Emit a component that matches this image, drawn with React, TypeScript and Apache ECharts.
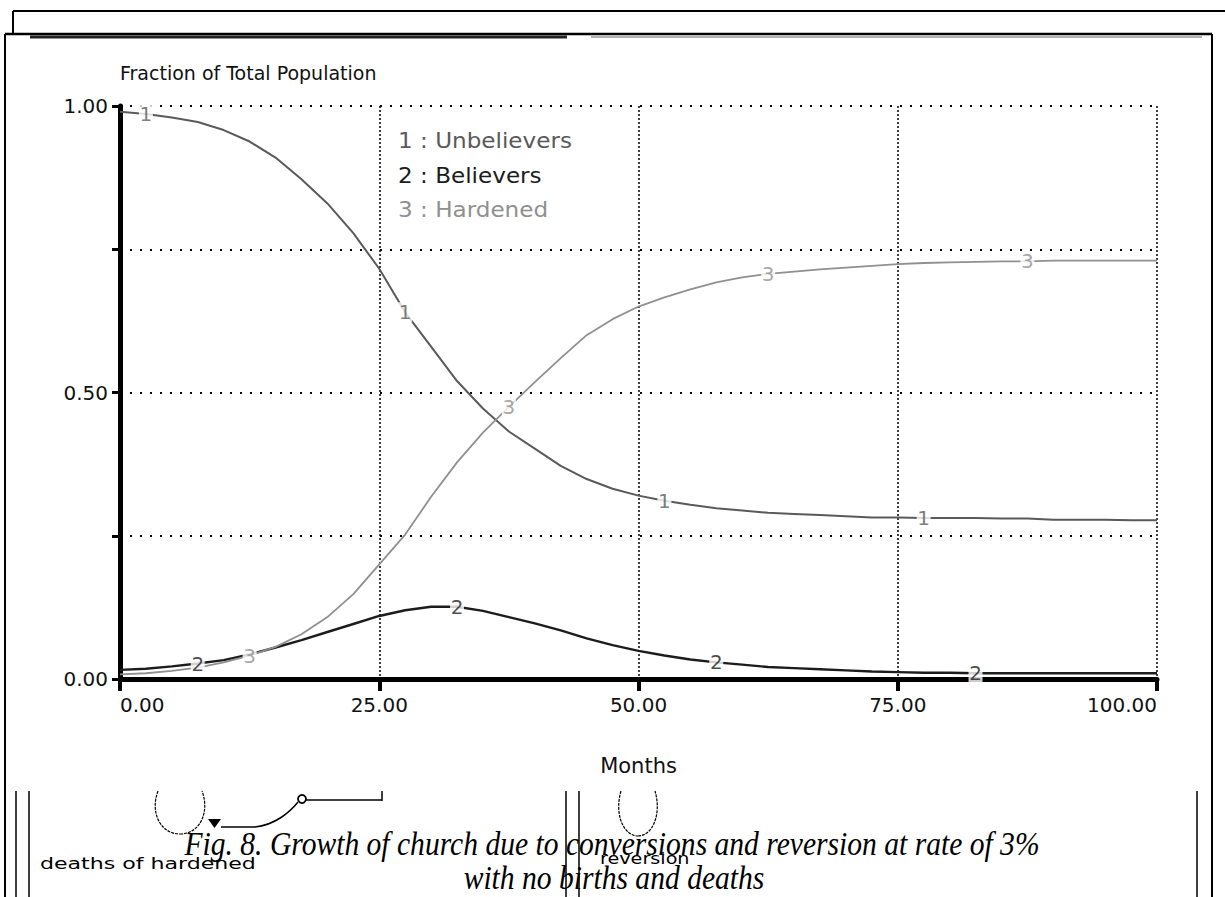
import React, { useEffect, useRef } from 'react';
import * as echarts from 'echarts';

// ---------- data ----------
const months = [
  0, 2.5, 5, 7.5, 10, 12.5, 15, 17.5, 20, 22.5, 25, 27.5, 30, 32.5, 35, 37.5, 40, 42.5, 45, 47.5, 50,
  52.5, 55, 57.5, 60, 62.5, 65, 67.5, 70, 72.5, 75, 77.5, 80, 82.5, 85, 87.5, 90, 92.5, 95, 97.5, 100,
];
const unbelievers = [
  0.99, 0.986, 0.98, 0.972, 0.958, 0.938, 0.91, 0.872, 0.83, 0.778, 0.716, 0.64, 0.58, 0.52, 0.472,
  0.432, 0.402, 0.372, 0.349, 0.332, 0.32, 0.311, 0.304, 0.298, 0.294, 0.29, 0.288, 0.286, 0.284,
  0.282, 0.282, 0.281, 0.281, 0.281, 0.28, 0.28, 0.278, 0.278, 0.278, 0.277, 0.277,
];
const believers = [
  0.016, 0.018, 0.022, 0.027, 0.033, 0.043, 0.055, 0.068, 0.082, 0.096, 0.11, 0.12, 0.126, 0.126,
  0.119, 0.108, 0.097, 0.085, 0.071, 0.059, 0.049, 0.041, 0.034, 0.029, 0.025, 0.021, 0.019, 0.017,
  0.015, 0.013, 0.012, 0.011, 0.011, 0.01, 0.01, 0.01, 0.01, 0.01, 0.01, 0.01, 0.01,
];
const hardened = [
  0.008, 0.01, 0.014, 0.02, 0.029, 0.041, 0.056, 0.078, 0.108, 0.148, 0.2, 0.252, 0.318, 0.378, 0.43,
  0.475, 0.518, 0.56, 0.6, 0.628, 0.65, 0.666, 0.68, 0.692, 0.701, 0.707, 0.711, 0.715, 0.718, 0.721,
  0.724, 0.726, 0.727, 0.728, 0.729, 0.729, 0.73, 0.73, 0.73, 0.73, 0.73,
];
const seriesNames = ['Unbelievers', 'Believers', 'Hardened'];
const seriesValues = [unbelievers, believers, hardened];
const seriesColors = ['#5a5a5a', '#1c1c1c', '#909090'];
const seriesWidths = [2, 2.4, 1.8];
const labelIndices = [
  [1, 11, 21, 31],
  [3, 13, 23, 33],
  [5, 15, 25, 35],
];
const yLabelled = [0, 0.5, 1];
const legendLines = ['1 : Unbelievers', '2 : Believers', '3 : Hardened'];
const caption1 = 'Fig. 8. Growth of church due to conversions and reversion at rate of 3%';
const caption2 = 'with no births and deaths';

const FONT = '"DejaVu Sans", sans-serif';

function ln(x1: number, y1: number, x2: number, y2: number, w = 2, c = '#000') {
  return { type: 'line', silent: true, shape: { x1, y1, x2, y2 }, style: { stroke: c, lineWidth: w } };
}

export default function App() {
  const ref = useRef<HTMLDivElement>(null);

  useEffect(() => {
    const chart = echarts.init(ref.current!, null, { renderer: 'svg' });

    const lineSeries = seriesNames.map((name, k) => ({
      type: 'line',
      name,
      data: months.map((m, i) => [m, seriesValues[k][i]]),
      showSymbol: false,
      symbol: 'none',
      lineStyle: { color: seriesColors[k], width: seriesWidths[k] },
      z: 3,
      silent: true,
    }));

    const labelSeries = seriesNames.map((name, k) => ({
      type: 'scatter',
      name: name + ' markers',
      data: labelIndices[k].map((i) => [months[i], seriesValues[k][i]]),
      symbol: 'rect',
      symbolSize: [14, 20],
      itemStyle: { color: '#ffffff' },
      label: {
        show: true,
        position: 'inside',
        formatter: String(k + 1),
        color: seriesColors[k],
        fontSize: 20,
        fontFamily: FONT,
      },
      z: 5,
      silent: true,
    }));

    const legendGraphics = legendLines.map((t, k) => ({
      type: 'text',
      x: 398,
      y: 141 + k * 34.5,
      scaleX: 1.1,
      silent: true,
      style: {
        text: t,
        fill: seriesColors[k],
        fontSize: 21,
        fontFamily: FONT,
        align: 'left',
        verticalAlign: 'middle',
        textAlign: 'left',
        textVerticalAlign: 'middle',
      },
    }));

    const option = {
      animation: false,
      backgroundColor: '#ffffff',
      textStyle: { fontFamily: FONT },
      grid: { left: 120, right: 68, top: 106, bottom: 218, containLabel: false },
      xAxis: {
        type: 'value',
        min: 0,
        max: 100,
        interval: 25,
        name: 'Months',
        nameLocation: 'middle',
        nameGap: 76,
        nameTextStyle: { fontSize: 21, color: '#111', fontFamily: FONT },
        axisLine: { show: true, lineStyle: { color: '#000', width: 5 } },
        axisTick: { show: true, length: 12, lineStyle: { color: '#000', width: 4 } },
        axisLabel: {
          fontSize: 20,
          color: '#111',
          margin: 16,
          fontFamily: FONT,
          alignMinLabel: 'left',
          alignMaxLabel: 'right',
          formatter: (v: number) => v.toFixed(2),
        },
        splitLine: { show: true, lineStyle: { color: '#000', width: 1.5, type: [2, 2] } },
      },
      yAxis: {
        type: 'value',
        min: 0,
        max: 1,
        interval: 0.25,
        name: 'Fraction of Total Population',
        nameLocation: 'end',
        nameGap: 33,
        nameTextStyle: { fontSize: 19, color: '#111', align: 'left', verticalAlign: 'middle', fontFamily: FONT },
        axisLine: { show: true, lineStyle: { color: '#000', width: 5 } },
        axisTick: { show: true, length: 8, lineStyle: { color: '#000', width: 3 } },
        axisLabel: {
          fontSize: 20,
          color: '#111',
          margin: 12,
          fontFamily: FONT,
          formatter: (v: number) => (yLabelled.some((y) => Math.abs(y - v) < 1e-9) ? v.toFixed(2) : ''),
        },
        splitLine: { show: true, lineStyle: { color: '#000', width: 2, type: [2, 8] } },
      },
      series: [...lineSeries, ...labelSeries],
      graphic: [
        // frame fragments at the top
        ln(13, 11, 1225, 11, 2),
        ln(13, 11, 13, 34, 2),
        ln(5, 34, 1212, 34, 2.5),
        ln(5, 34, 5, 897, 2),
        ln(1212, 34, 1212, 897, 2),
        ln(30, 37, 567, 37, 3, '#222'),
        ln(591, 37, 1202, 37, 1.5, '#999'),
        // vertical fragments at the bottom
        ln(16, 791, 16, 897, 1.5),
        ln(29, 791, 29, 897, 1.5),
        ln(566, 791, 566, 897, 1.5),
        ln(579, 791, 579, 897, 1.5),
        ln(1197, 791, 1197, 897, 1.5),
        // left ellipse
        {
          type: 'bezierCurve', silent: true,
          shape: { x1: 158, y1: 791, cpx1: 150, cpy1: 812, cpx2: 160, cpy2: 834, x2: 180, y2: 834 },
          style: { stroke: '#000', fill: null, lineWidth: 1.2, lineDash: [3, 1] },
        },
        {
          type: 'bezierCurve', silent: true,
          shape: { x1: 180, y1: 834, cpx1: 200, cpy1: 834, cpx2: 210, cpy2: 812, x2: 202, y2: 791 },
          style: { stroke: '#000', fill: null, lineWidth: 1.2, lineDash: [3, 1] },
        },
        // arrow
        { type: 'polygon', silent: true, shape: { points: [[208, 819], [221, 819], [214.5, 828]] }, style: { fill: '#000' } },
        ln(221, 827, 255, 827, 1.5),
        {
          type: 'bezierCurve', silent: true,
          shape: { x1: 255, y1: 827, cpx1: 275, cpy1: 825, cpx2: 290, cpy2: 812, x2: 298, y2: 802 },
          style: { stroke: '#000', fill: null, lineWidth: 1.5 },
        },
        { type: 'circle', silent: true, shape: { cx: 302, cy: 799, r: 4 }, style: { stroke: '#000', fill: '#fff', lineWidth: 1.8 } },
        ln(306, 800, 382, 800, 1.5),
        ln(382, 791, 382, 801, 1.5),
        // right ellipse
        {
          type: 'bezierCurve', silent: true,
          shape: { x1: 621, y1: 791, cpx1: 614, cpy1: 815, cpx2: 624, cpy2: 836, x2: 638, y2: 836 },
          style: { stroke: '#000', fill: null, lineWidth: 1.2, lineDash: [3, 1] },
        },
        {
          type: 'bezierCurve', silent: true,
          shape: { x1: 638, y1: 836, cpx1: 652, cpy1: 836, cpx2: 662, cpy2: 815, x2: 655, y2: 791 },
          style: { stroke: '#000', fill: null, lineWidth: 1.2, lineDash: [3, 1] },
        },
        // diagram labels
        {
          type: 'text', x: 40, y: 864, scaleX: 1.38, silent: true,
          style: { text: 'deaths of hardened', fill: '#000', fontSize: 16, fontFamily: FONT, align: 'left', verticalAlign: 'middle', textAlign: 'left', textVerticalAlign: 'middle' },
        },
        {
          type: 'text', x: 600, y: 859, scaleX: 1.2, silent: true,
          style: { text: 'reversion', fill: '#000', fontSize: 16, fontFamily: FONT, align: 'left', verticalAlign: 'middle', textAlign: 'left', textVerticalAlign: 'middle' },
        },
        // caption
        {
          type: 'text', x: 612, y: 844, scaleX: 0.87, silent: true,
          style: { text: caption1, fill: '#000', fontSize: 34, fontStyle: 'italic', fontFamily: '"Liberation Serif", serif', align: 'center', verticalAlign: 'middle', textAlign: 'center', textVerticalAlign: 'middle' },
        },
        {
          type: 'text', x: 614, y: 878, scaleX: 0.87, silent: true,
          style: { text: caption2, fill: '#000', fontSize: 34, fontStyle: 'italic', fontFamily: '"Liberation Serif", serif', align: 'center', verticalAlign: 'middle', textAlign: 'center', textVerticalAlign: 'middle' },
        },
        ...legendGraphics,
      ],
    };

    chart.setOption(option as any);
    return () => chart.dispose();
  }, []);

  return (
    <div
      ref={ref}
      style={{ position: 'absolute', left: 0, top: 0, width: 1225, height: 897, background: '#fff' }}
    />
  );
}
